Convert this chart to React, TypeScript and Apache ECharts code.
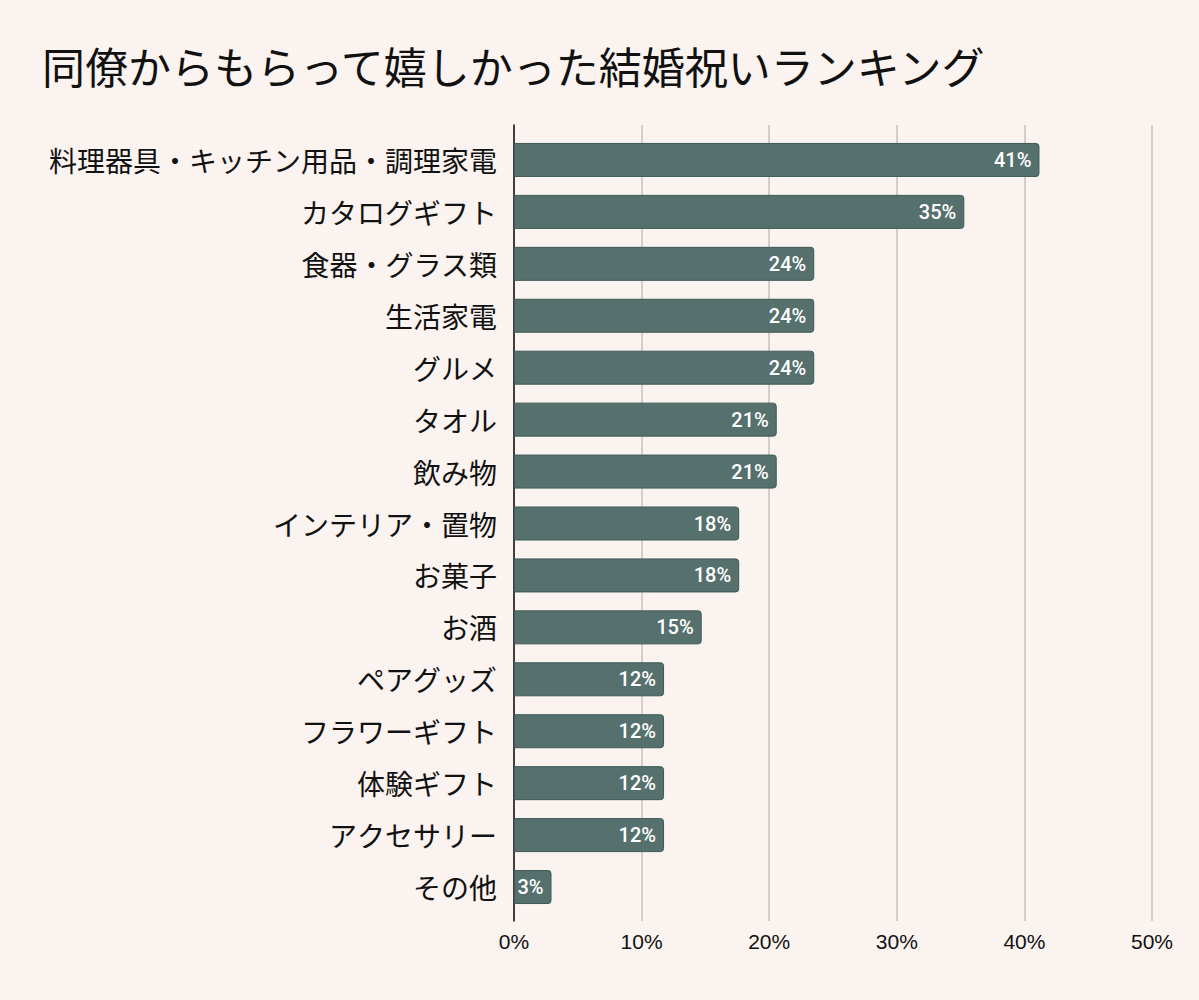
import React, { useEffect, useRef } from "react";
import * as echarts from "echarts";

const title = "同僚からもらって嬉しかった結婚祝いランキング";
const categories = [
  "料理器具・キッチン用品・調理家電",
  "カタログギフト",
  "食器・グラス類",
  "生活家電",
  "グルメ",
  "タオル",
  "飲み物",
  "インテリア・置物",
  "お菓子",
  "お酒",
  "ペアグッズ",
  "フラワーギフト",
  "体験ギフト",
  "アクセサリー",
  "その他",
];
const values = [41.18, 35.29, 23.53, 23.53, 23.53, 20.59, 20.59, 17.65, 17.65, 14.71, 11.76, 11.76, 11.76, 11.76, 2.94];
const xTicks = { min: 0, max: 50, interval: 10 };

export default function App() {
  const ref = useRef<HTMLDivElement>(null);
  useEffect(() => {
    if (!ref.current) return;
    const chart = echarts.init(ref.current, undefined, { renderer: "svg" });
    const jp = '"Noto Sans CJK JP", "Noto Sans", sans-serif';
    chart.setOption({
      animation: false,
      backgroundColor: "#FAF3EF",
      title: {
        text: title,
        left: 37,
        top: 38,
        textStyle: { fontFamily: jp, fontSize: 43, fontWeight: "normal", color: "#111" },
      },
      grid: [
        { left: 514, right: 47, top: 125, bottom: 79 },
        { left: 514, right: 47, top: 134, height: 779 },
      ],
      xAxis: [
        {
          gridIndex: 0,
          type: "value",
          min: xTicks.min,
          max: xTicks.max,
          interval: xTicks.interval,
          axisLine: { show: false },
          axisTick: { show: false },
          splitLine: { show: true, lineStyle: { color: "#C9C1BF", width: 1.5 } },
          axisLabel: {
            formatter: "{value}%",
            fontFamily: '"Liberation Sans", Arial, sans-serif',
            fontSize: 21,
            color: "#111",
            margin: 10,
          },
        },
        { gridIndex: 1, type: "value", min: xTicks.min, max: xTicks.max, show: false },
      ],
      yAxis: [
        {
          gridIndex: 0,
          type: "value",
          axisLine: { show: true, lineStyle: { color: "#111", width: 1.5 } },
          axisTick: { show: false },
          axisLabel: { show: false },
          splitLine: { show: false },
        },
        {
          gridIndex: 1,
          type: "category",
          inverse: true,
          data: categories,
          axisLine: { show: false },
          axisTick: { show: false },
          axisLabel: { fontFamily: jp, fontSize: 28, color: "#111", margin: 17 },
        },
      ],
      series: [
        {
          type: "bar",
          xAxisIndex: 1,
          yAxisIndex: 1,
          data: values,
          barWidth: 34,
          itemStyle: {
            color: "#55706D",
            borderColor: "#3E5A57",
            borderWidth: 1,
            borderRadius: [0, 3, 3, 0],
          },
          label: {
            show: true,
            position: "insideRight",
            distance: 8,
            formatter: (p: any) => Math.round(p.value) + "%",
            color: "#fff",
            fontFamily: "Roboto, sans-serif",
            fontSize: 20,
            fontWeight: 500,
          },
        },
      ],
    });
    return () => chart.dispose();
  }, []);
  return (
    <div
      ref={ref}
      style={{ position: "fixed", left: 0, top: 0, width: 1199, height: 1000 }}
    />
  );
}
